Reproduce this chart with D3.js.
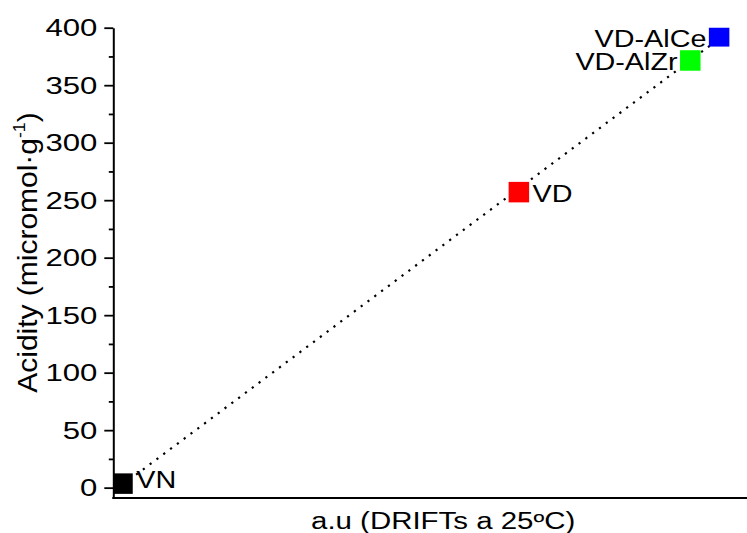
<!DOCTYPE html>
<html>
<head>
<meta charset="utf-8">
<script src="https://cdn.jsdelivr.net/npm/d3@7"></script>
<style>
  body { margin: 0; background: #fff; }
  svg { display: block; }
  text { font-family: Arial, "Liberation Sans", sans-serif; fill: #000; }
</style>
</head>
<body>
<svg id="chart" width="747" height="533"></svg>
<script>
// Samples, their DRIFTs signal (a.u.) and total acidity (micromol/g)
const samples = ["VN", "VD", "VD-AlZr", "VD-AlCe"];
const drifts = [1.45, 64.0, 91.05, 95.6];
const acidity = [3.5, 257, 371.5, 392.5];
const sampleColors = ["#000000", "#ff0000", "#00ff00", "#0000ff"];

const yTicks = [0, 50, 100, 150, 200, 250, 300, 350, 400];
const yMinorTicks = [25, 75, 125, 175, 225, 275, 325, 375];
const xTitle = "a.u (DRIFTs a 25ºC)";
const yTitleMain = "Acidity (micromol·g";
const yTitleSup = "-1";
const yTitleEnd = ")";

// label placement next to each marker: side and vertical shift of the baseline
const labelSide = ["right", "right", "left", "left"];
const labelShift = [4.5, 9.5, 9.5, 10.5];

const svg = d3.select("#chart");
const plot = { left: 113.3, right: 747, top: 27.7, bottom: 498 };
const SX = 1.25;          // horizontal widening of the lettering
const markerSize = 20.5;

const x = d3.scaleLinear().domain([0, 100]).range([plot.left, plot.right]);
const y = d3.scaleLinear().domain([-9, 400]).range([plot.bottom, plot.top]);

const points = samples.map((s, i) => ({ name: s, x: drifts[i], y: acidity[i], color: sampleColors[i], side: labelSide[i], shift: labelShift[i] }));

// clip marks to the plotting area
svg.append("defs").append("clipPath").attr("id", "plotClip")
  .append("rect")
  .attr("x", plot.left).attr("y", plot.top)
  .attr("width", plot.right - plot.left).attr("height", plot.bottom - plot.top);

// least-squares line through the samples
const n = points.length;
const mx = d3.mean(points, d => d.x), my = d3.mean(points, d => d.y);
const sxy = d3.sum(points, d => (d.x - mx) * (d.y - my));
const sxx = d3.sum(points, d => (d.x - mx) ** 2);
const slope = sxy / sxx, intercept = my - slope * mx;
const [xmin, xmax] = d3.extent(points, d => d.x);

const marks = svg.append("g").attr("clip-path", "url(#plotClip)");
marks.append("line")
  .attr("x1", x(xmin)).attr("y1", y(intercept + slope * xmin))
  .attr("x2", x(xmax)).attr("y2", y(intercept + slope * xmax))
  .attr("stroke", "#000")
  .attr("stroke-width", 2.2)
  .attr("stroke-dasharray", "2.2 6.3");

marks.selectAll("rect.pt").data(points).join("rect")
  .attr("class", "pt")
  .attr("x", d => x(d.x) - markerSize / 2)
  .attr("y", d => y(d.y) - markerSize / 2)
  .attr("width", markerSize).attr("height", markerSize)
  .attr("fill", d => d.color);

// sample labels
svg.selectAll("text.lbl").data(points).join("text")
  .attr("class", "lbl")
  .attr("text-anchor", d => d.side === "right" ? "start" : "end")
  .attr("font-size", 23)
  .attr("transform", d => {
    const tx = d.side === "right" ? x(d.x) + markerSize / 2 + 3.5 : x(d.x) - markerSize / 2 - 2.5;
    return `translate(${tx},${y(d.y) + d.shift}) scale(${SX},1)`;
  })
  .text(d => d.name);

// y axis: major ticks with labels
const yAxis = svg.append("g")
  .attr("transform", `translate(${plot.left},0)`)
  .call(d3.axisLeft(y).tickValues(yTicks).tickSize(9).tickSizeOuter(0).tickFormat(d3.format("d")));
yAxis.select(".domain").attr("stroke-width", 2);
yAxis.selectAll(".tick line").attr("stroke-width", 1.8);
yAxis.selectAll(".tick text")
  .attr("x", 0)
  .attr("dy", "0.32em")
  .attr("font-size", 24.5)
  .attr("font-family", null)
  .attr("transform", `translate(-16,0) scale(${SX + 0.02},1)`);

// y axis: minor ticks
const yMinor = svg.append("g")
  .attr("transform", `translate(${plot.left},0)`)
  .call(d3.axisLeft(y).tickValues(yMinorTicks).tickSize(4.5).tickFormat(""));
yMinor.select(".domain").remove();
yMinor.selectAll(".tick line").attr("stroke-width", 1.8);

// x axis: plain baseline without ticks
const xAxis = svg.append("g")
  .attr("transform", `translate(0,${plot.bottom})`)
  .call(d3.axisBottom(x).tickValues([]).tickSizeOuter(0));
xAxis.select(".domain").attr("stroke-width", 2)
  .attr("d", `M${plot.left - 1},0H${plot.right}`);

// axis titles
svg.append("text")
  .attr("text-anchor", "middle")
  .attr("font-size", 23)
  .attr("transform", `translate(${(plot.left + plot.right) / 2 + 13},529) scale(${SX + 0.03},1)`)
  .text(xTitle);

const yTitle = svg.append("text")
  .attr("text-anchor", "middle")
  .attr("font-size", 27)
  .attr("transform", `translate(36.7,252.5) rotate(-90) scale(1.11,1)`);
yTitle.append("tspan").text(yTitleMain);
yTitle.append("tspan").attr("font-size", 16).attr("dy", "-0.75em").text(yTitleSup);
yTitle.append("tspan").attr("dy", "0.45em").text(yTitleEnd);
</script>
</body>
</html>
